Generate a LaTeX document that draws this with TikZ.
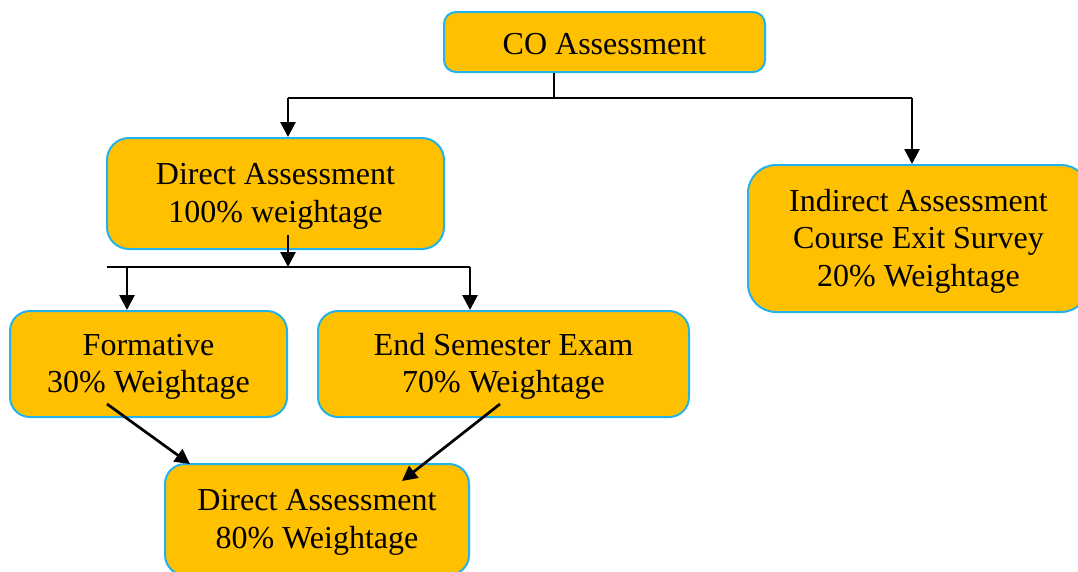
\documentclass[tikz,border=0pt]{standalone}
\usepackage{fontspec}
\setmainfont{Liberation Serif}
\usetikzlibrary{arrows.meta}
\definecolor{boxfill}{HTML}{FFC000}
\definecolor{boxline}{HTML}{22B2EC}
% invisible strut that pushes a text block a little below the box centre
\newcommand\toplift[1][27pt]{\rule{0pt}{#1}}
\begin{document}
\begin{tikzpicture}[x=1pt,y=-1pt,
  box/.style={draw=boxline, line width=2pt, fill=boxfill, rounded corners=#1,
    align=center, inner sep=0pt,
    font=\fontsize{32}{37.5}\selectfont},
  box/.default=18pt,
  link/.style={line width=2.7pt, black},
  arr/.style={link, -{Triangle[length=15pt,width=15pt]}}]
\useasboundingbox (0,0) rectangle (1078,571);

% boxes
\node[box=12pt, minimum width=321pt, minimum height=60pt] (co) at (604.5,42) {\toplift[26pt]CO Assessment};
\node[box=22pt, minimum width=337pt, minimum height=111pt] (da) at (275.5,193.5) {\toplift Direct Assessment\\100\% weightage};
\node[box=28pt, minimum width=341pt, minimum height=147pt] (ia) at (918.5,238.5) {\toplift Indirect Assessment\\Course Exit Survey\\20\% Weightage};
\node[box=20pt, minimum width=277pt, minimum height=106pt] (fo) at (148.5,364) {\toplift Formative\\30\% Weightage};
\node[box=20pt, minimum width=371pt, minimum height=106pt] (es) at (503.5,364) {\toplift End Semester Exam\\70\% Weightage};
\node[box=20pt, minimum width=304pt, minimum height=111pt] (db) at (317,519.5) {\toplift Direct Assessment\\80\% Weightage};

% top split
\coordinate (j0) at (554,98);
\coordinate (jl) at (288,98);
\coordinate (jr) at (912,98);
\draw[link] (co.south -| j0) -- (j0);
\draw[link] (jl) -- (jr);
\draw[arr] (jl) -- (jl |- da.north);
\draw[arr] (jr) -- (jr |- ia.north);

% second split
\coordinate (d0) at (288,235);
\coordinate (d1) at (288,267);
\coordinate (kl) at (107,267);
\coordinate (ka) at (127,267);
\coordinate (kb) at (470,267);
\draw[arr] (d0) -- (d1);
\draw[link] (kl) -- (kb);
\draw[arr] (ka) -- (ka |- fo.north);
\draw[arr] (kb) -- (kb |- es.north);

% merge into final direct assessment
\coordinate (f0) at (107,404);
\coordinate (f1) at (190,464);
\coordinate (e0) at (500,404);
\coordinate (e1) at (402,481);
\draw[arr] (f0) -- (f1);
\draw[arr] (e0) -- (e1);
\end{tikzpicture}
\end{document}
